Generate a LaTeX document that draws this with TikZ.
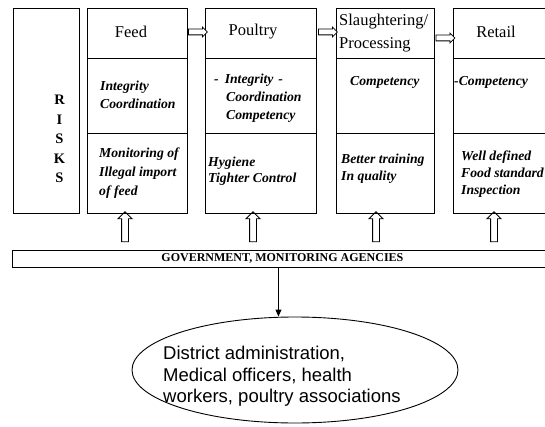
\documentclass[tikz,border=0pt]{standalone}
\usepackage{fontspec}
\setmainfont{Liberation Serif}
\newfontfamily\arialfont{Liberation Sans}
\usetikzlibrary{shapes.geometric,shapes.arrows,arrows.meta,calc}

\begin{document}
\begin{tikzpicture}[x=1pt,y=-1pt,
  colbox/.style={draw, line width=0.9pt, minimum height=205pt, inner sep=0pt, anchor=north west},
  divider/.style={line width=0.9pt},
  title/.style={font=\fontsize{16.5}{23}\selectfont, inner sep=0pt, align=left},
  cell/.style={font=\fontsize{13.7}{18}\selectfont\bfseries\itshape, inner sep=0pt, anchor=north west, align=left},
  flowarrow/.style={single arrow, draw, line width=0.8pt, inner sep=2.5pt,
    single arrow head extend=2pt, minimum height=19pt, fill=white},
  uparrow/.style={single arrow, draw, line width=0.8pt, inner sep=3pt,
    single arrow head extend=3.5pt, minimum height=30pt, shape border rotate=90},
  ]
\clip (0,0) rectangle (545,427);
\fill[white] (0,0) rectangle (545,427);

% row levels
\coordinate (r1) at (0,58);
\coordinate (r2) at (0,133);
\coordinate (t1) at (0,32);
\coordinate (t2) at (0,38);

% risk column and the four chain stages
\node[colbox, minimum width=66pt] (risks) at (13,8) {};
\node[colbox, minimum width=100pt] (feed) at (87,8) {};
\node[colbox, minimum width=111pt] (poultry) at (205,8) {};
\node[colbox, minimum width=98pt] (slaughter) at (336,8) {};
\node[colbox, minimum width=95pt] (retail) at (453,8) {};

\foreach \b in {feed,poultry,slaughter,retail}{
  \draw[divider] (\b.west |- r1) -- (\b.east |- r1);
  \draw[divider] (\b.west |- r2) -- (\b.east |- r2);
}

\node[font=\fontsize{14.5}{19.5}\selectfont\bfseries, align=center, inner sep=0pt]
  (risklabel) at (59.5,139) {R\\I\\S\\K\\S};

% stage titles
\node[title] (feedtitle) at (131,32) {Feed};
\node[title] (poultrytitle) at (253,32) {Poultry};
\node[title, anchor=west] (slaughtertitle) at (339,33.5) {Slaughtering/\\Processing};
\node[title] (retailtitle) at (496,32) {Retail};

% middle row
\node[cell] (feedmid) at (100,81) {Integrity\\Coordination};
\node[cell] (poultrymid) at (214,74) {-\hspace*{6pt}Integrity\hspace*{5pt}-\\\hspace*{12pt}Coordination\\\hspace*{12pt}Competency};
\node[cell] (slaughtermid) at (350,76) {Competency};
\node[cell] (retailmid) at (454,76) {-Competency};

% bottom row
\node[cell, font=\fontsize{13.7}{19}\selectfont\bfseries\itshape] (feedlow) at (99,148) {Monitoring of\\Illegal import\\of feed};
\node[cell, font=\fontsize{13.7}{16}\selectfont\bfseries\itshape] (poultrylow) at (208,157) {Hygiene\\Tighter Control};
\node[cell, font=\fontsize{13.7}{17}\selectfont\bfseries\itshape] (slaughterlow) at (341,154) {Better training\\In quality};
\node[cell, font=\fontsize{13.7}{17}\selectfont\bfseries\itshape] (retaillow) at (461,151) {Well defined\\Food standard\\Inspection};

% flow arrows between stages
\node[flowarrow] (fa1) at ($(feed.east |- t1)!0.5!(poultry.west |- t1)$) {};
\node[flowarrow] (fa2) at ($(poultry.east |- t1)!0.5!(slaughter.west |- t1)$) {};
\node[flowarrow] (fa3) at ($(slaughter.east |- t2)!0.5!(retail.west |- t2)$) {};

% government bar
\node[draw, line width=0.9pt, minimum width=536pt, minimum height=17pt, inner sep=0pt,
  anchor=north west, font=\fontsize{12}{12}\selectfont\bfseries] (gov) at (12,250)
  {\hspace*{4pt}GOVERNMENT, MONITORING AGENCIES};

% support arrows from the bar up to each stage
\node[uparrow] (up1) at (125,228.5) {};
\node[uparrow] (up2) at (253,228.5) {};
\node[uparrow] (up3) at (376,228.5) {};
\node[uparrow] (up4) at (494,228.5) {};

% local actors
\node[draw, ellipse, line width=0.9pt, minimum width=326pt, minimum height=106pt, inner sep=0pt]
  (actors) at (295,370) {};
\node[font=\arialfont\fontsize{18.5}{21.5}\selectfont, align=left, anchor=north west, inner sep=0pt]
  (actorstext) at (163,346) {District administration,\\Medical officers, health\\workers, poultry associations};

\draw[line width=0.9pt, -{Triangle[length=7pt,width=6pt]}] ([xshift=-2pt]gov.south) -- ([xshift=-2pt]gov.south |- actors.north);
\end{tikzpicture}
\end{document}
